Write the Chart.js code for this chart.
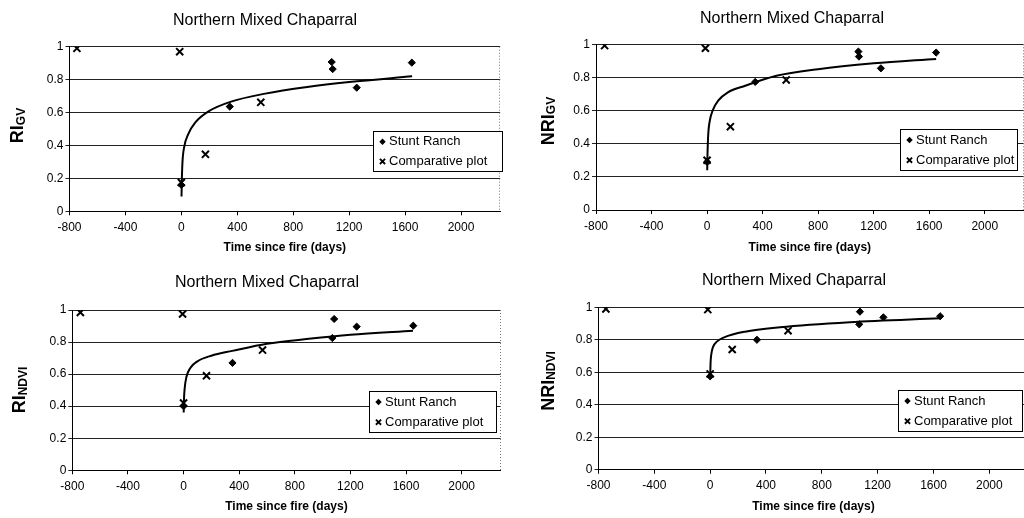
<!DOCTYPE html>
<html><head><meta charset="utf-8">
<script src="https://cdn.jsdelivr.net/npm/chart.js@4.4.0/dist/chart.umd.min.js"></script>
<style>
html,body{margin:0;padding:0;background:#fff;overflow:hidden;width:1024px;height:518px;position:relative;}
canvas{position:absolute;}
</style></head><body>
<canvas id="c1" width="512" height="259" style="left:0;top:0"></canvas>
<canvas id="c2" width="520" height="259" style="left:512px;top:0"></canvas>
<canvas id="c3" width="512" height="259" style="left:0;top:259px"></canvas>
<canvas id="c4" width="525" height="259" style="left:512px;top:259px"></canvas>
<script>
// ---------- data ----------
const xTicks = [-800, -400, 0, 400, 800, 1200, 1600, 2000];
const yTicks = [0, 0.2, 0.4, 0.6, 0.8, 1];
const chartTitle = 'Northern Mixed Chaparral';
const xAxisTitle = 'Time since fire (days)';
const seriesNames = ['Stunt Ranch', 'Comparative plot'];

// RI_GV
const riGvStuntX = [0, 346, 1075, 1082, 1254, 1648];
const riGvStuntY = [0.16, 0.636, 0.907, 0.864, 0.751, 0.903];
const riGvCompX  = [-747, -12, 0, 172, 568];
const riGvCompY  = [0.99, 0.97, 0.175, 0.346, 0.662];
const riGvFitX   = [1, 3, 8, 20, 50, 100, 200, 350, 600, 900, 1200, 1650];
const riGvFitY   = [0.09, 0.18, 0.30, 0.39, 0.47, 0.54, 0.61, 0.665, 0.715, 0.755, 0.785, 0.82];

// NRI_GV
const nriGvStuntX = [0, 347, 1090, 1094, 1252, 1650];
const nriGvStuntY = [0.29, 0.773, 0.956, 0.926, 0.855, 0.95];
const nriGvCompX  = [-738, -12, 0, 168, 570];
const nriGvCompY  = [0.992, 0.976, 0.30, 0.503, 0.785];
const nriGvFitX   = [1, 3, 8, 20, 40, 80, 150, 275, 500, 800, 1200, 1650];
const nriGvFitY   = [0.24, 0.33, 0.45, 0.54, 0.60, 0.66, 0.71, 0.75, 0.81, 0.85, 0.885, 0.912];

// RI_NDVI
const riNdviStuntX = [0, 352, 1070, 1083, 1245, 1652];
const riNdviStuntY = [0.40, 0.67, 0.825, 0.944, 0.896, 0.902];
const riNdviCompX  = [-742, -7, 0, 165, 568];
const riNdviCompY  = [0.985, 0.975, 0.42, 0.59, 0.75];
const riNdviFitX   = [1, 3, 8, 20, 50, 100, 200, 350, 600, 900, 1200, 1650];
const riNdviFitY   = [0.36, 0.44, 0.51, 0.58, 0.64, 0.68, 0.715, 0.745, 0.79, 0.82, 0.845, 0.87];

// NRI_NDVI
const nriNdviStuntX = [0, 335, 1068, 1073, 1241, 1648];
const nriNdviStuntY = [0.575, 0.80, 0.895, 0.973, 0.938, 0.945];
const nriNdviCompX  = [-747, -17, 0, 158, 558];
const nriNdviCompY  = [0.99, 0.986, 0.59, 0.74, 0.856];
const nriNdviFitX   = [1, 3, 8, 20, 50, 100, 250, 500, 1000, 1650];
const nriNdviFitY   = [0.60, 0.66, 0.71, 0.755, 0.79, 0.815, 0.85, 0.877, 0.908, 0.932];

// ---------- layout (positions / styles) ----------
const FONT = "'Liberation Sans', Arial, Helvetica, sans-serif";
const panels = [
  {id:'c1', main:'RI',  sub:'GV',   sX:riGvStuntX, sY:riGvStuntY, cX:riGvCompX, cY:riGvCompY, fX:riGvFitX, fY:riGvFitY,
   L:{W:512, areaL:69.5, areaR:500.2, areaT:46.7, areaB:211.3, titleX:265, titleY:21, ylabX:23, ylabY:125.5, legend:[373,131,129,40]}},
  {id:'c2', main:'NRI', sub:'GV',   sX:nriGvStuntX, sY:nriGvStuntY, cX:nriGvCompX, cY:nriGvCompY, fX:nriGvFitX, fY:nriGvFitY,
   L:{W:520, areaL:84, areaR:511.6, areaT:44.3, areaB:210, titleX:280, titleY:19, ylabX:41.5, ylabY:121, legend:[388,129,117,41]}},
  {id:'c3', main:'RI',  sub:'NDVI', sX:riNdviStuntX, sY:riNdviStuntY, cX:riNdviCompX, cY:riNdviCompY, fX:riNdviFitX, fY:riNdviFitY,
   L:{W:512, areaL:72.3, areaR:500.6, areaT:51, areaB:211.3, titleX:267, titleY:23.5, ylabX:25, ylabY:131, legend:[369,132,127,41]}},
  {id:'c4', main:'NRI', sub:'NDVI', sX:nriNdviStuntX, sY:nriNdviStuntY, cX:nriNdviCompX, cY:nriNdviCompY, fX:nriNdviFitX, fY:nriNdviFitY,
   L:{W:525, areaL:86.5, areaR:516.4, areaT:48.3, areaB:210.7, titleX:282, titleY:22, ylabX:41.7, ylabY:122, legend:[386,131,124,41]}}
];

const H = 259;
const TITLE_SIZE = 16, TITLE_LH = 1.2;

function drawDiamond(ctx, x, y, r) {
  ctx.beginPath();
  ctx.moveTo(x, y - r); ctx.lineTo(x + r, y); ctx.lineTo(x, y + r); ctx.lineTo(x - r, y);
  ctx.closePath(); ctx.fill();
}
function drawX(ctx, x, y, r) {
  ctx.beginPath();
  ctx.moveTo(x - r, y - r); ctx.lineTo(x + r, y + r);
  ctx.moveTo(x + r, y - r); ctx.lineTo(x - r, y + r);
  ctx.stroke();
}

const decor = {
  id: 'decor',
  beforeDatasetsDraw(chart, args, opts) {
    const {ctx, chartArea: a} = chart;
    ctx.save();
    ctx.strokeStyle = '#777'; ctx.lineWidth = 1; ctx.setLineDash([1, 2]);
    const rx = Math.round(a.right) - 0.5;
    ctx.beginPath(); ctx.moveTo(rx, a.top); ctx.lineTo(rx, a.bottom); ctx.stroke();
    ctx.restore();
  },
  afterDraw(chart, args, opts) {
    const ctx = chart.ctx;
    // y axis title with subscript
    ctx.save();
    ctx.translate(opts.ylabX, opts.ylabY);
    ctx.rotate(-Math.PI / 2);
    ctx.fillStyle = '#000';
    ctx.textAlign = 'left'; ctx.textBaseline = 'alphabetic';
    const fMain = 'bold 18px ' + FONT, fSub = 'bold 12px ' + FONT;
    ctx.font = fMain; const w1 = ctx.measureText(opts.main).width;
    ctx.font = fSub; const w2 = ctx.measureText(opts.sub).width;
    const x0 = -(w1 + w2) / 2;
    ctx.font = fMain; ctx.fillText(opts.main, x0, 0);
    ctx.font = fSub; ctx.fillText(opts.sub, x0 + w1, 1.5);
    ctx.restore();
    // legend box
    const [lx, ly, lw, lh] = opts.legend;
    ctx.save();
    ctx.fillStyle = '#fff';
    ctx.fillRect(lx, ly, lw, lh);
    ctx.strokeStyle = '#000'; ctx.lineWidth = 1;
    ctx.strokeRect(Math.round(lx) + 0.5, Math.round(ly) + 0.5, Math.round(lw), Math.round(lh));
    const r1 = ly + lh * 0.27, r2 = ly + lh * 0.76;
    ctx.fillStyle = '#000';
    drawDiamond(ctx, lx + 9.5, r1, 3.2);
    ctx.lineWidth = 1.8;
    drawX(ctx, lx + 9.5, r2, 2.6);
    ctx.font = '13px ' + FONT;
    ctx.textBaseline = 'middle'; ctx.textAlign = 'left';
    ctx.fillText(seriesNames[0], lx + 16, r1);
    ctx.fillText(seriesNames[1], lx + 16, r2);
    ctx.restore();
  }
};

const toPts = (xs, ys) => xs.map((x, i) => ({x: x, y: ys[i]}));

panels.forEach(p => {
  const L = p.L;
  const padR = L.W - L.areaR;
  const padL = 2 * L.titleX - L.areaR;
  const yWidth = L.areaL - padL;
  const xHeight = H - L.areaB;
  const titlePadTop = L.titleY - TITLE_SIZE * TITLE_LH / 2;
  const titlePadBottom = L.areaT - L.titleY - TITLE_SIZE * TITLE_LH / 2;
  const xTitleLH = 12 * 1.2;
  const xTitlePadBottom = H - 248 - xTitleLH / 2;

  new Chart(document.getElementById(p.id), {
    type: 'scatter',
    data: {
      datasets: [
        {label: 'fit', data: toPts(p.fX, p.fY), showLine: true, borderColor: '#000', borderWidth: 2,
         pointRadius: 0, cubicInterpolationMode: 'monotone', fill: false, order: 3},
        {label: seriesNames[0], data: toPts(p.sX, p.sY), pointStyle: 'rectRot', pointRadius: 3.6,
         backgroundColor: '#000', borderColor: '#000', borderWidth: 1, order: 2},
        {label: seriesNames[1], data: toPts(p.cX, p.cY), pointStyle: 'crossRot', pointRadius: 5,
         backgroundColor: '#000', borderColor: '#000', borderWidth: 2, order: 1}
      ]
    },
    options: {
      responsive: false, animation: false, events: [],
      layout: {padding: {left: padL, right: padR, top: 0, bottom: 0}},
      plugins: {
        legend: {display: false},
        tooltip: {enabled: false},
        title: {display: true, text: chartTitle, color: '#000',
                font: {family: FONT, size: TITLE_SIZE, weight: 'normal', lineHeight: TITLE_LH},
                padding: {top: titlePadTop, bottom: titlePadBottom}},
        decor: {main: p.main, sub: p.sub, ylabX: L.ylabX, ylabY: L.ylabY, legend: L.legend}
      },
      scales: {
        x: {
          type: 'linear', min: -800, max: 2280,
          afterBuildTicks: s => { s.ticks = xTicks.map(v => ({value: v})); },
          afterFit: s => { s.height = xHeight; },
          ticks: {color: '#000', font: {family: FONT, size: 12}, padding: 5, maxRotation: 0, autoSkip: false,
                  callback: v => String(v)},
          grid: {display: true, drawOnChartArea: false, drawTicks: true, tickLength: 4, color: '#000'},
          border: {display: true, color: '#000', width: 1},
          title: {display: true, text: xAxisTitle, color: '#000',
                  font: {family: FONT, size: 12, weight: 'bold', lineHeight: 1.2},
                  padding: {top: 0, bottom: xTitlePadBottom}}
        },
        y: {
          type: 'linear', min: 0, max: 1,
          afterBuildTicks: s => { s.ticks = yTicks.map(v => ({value: v})); },
          afterFit: s => { s.width = yWidth; },
          ticks: {color: '#000', font: {family: FONT, size: 12}, padding: 2,
                  callback: v => String(v)},
          grid: {display: true, drawOnChartArea: true, drawTicks: true, tickLength: 4, color: '#222', lineWidth: 1},
          border: {display: true, color: '#000', width: 1},
          title: {display: false}
        }
      }
    },
    plugins: [decor]
  });
});
</script>
</body></html>
